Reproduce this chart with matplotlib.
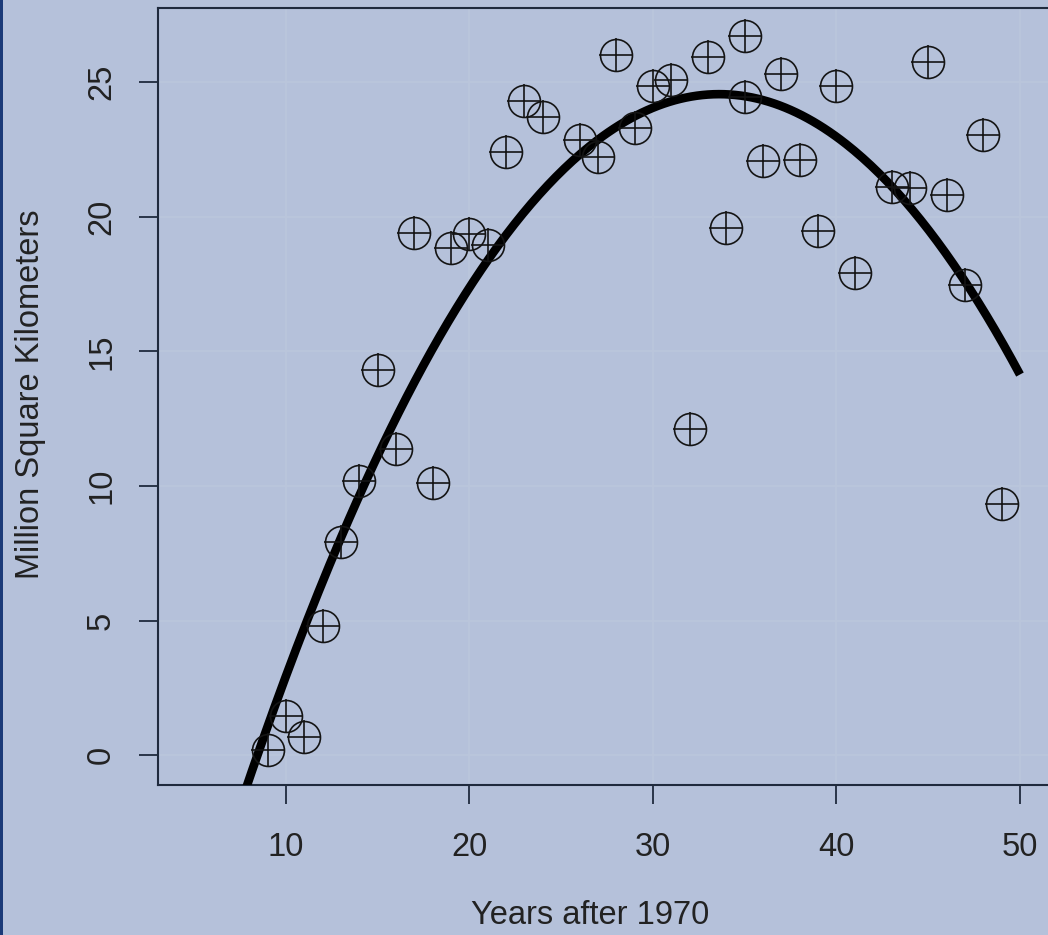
import numpy as np
import matplotlib
matplotlib.use("Agg")
import matplotlib.pyplot as plt
from matplotlib.patches import Rectangle

# Data
years = [9, 10, 11, 12, 13, 14, 15, 16, 17, 18, 19, 20, 21, 22, 23, 24, 26, 27,
         28, 29, 30, 31, 32, 33, 34, 35, 35, 36, 37, 38, 39, 40, 41, 43, 44, 45,
         46, 47, 48, 49]
area = [0.19, 1.45, 0.67, 4.79, 7.91, 10.2, 14.3, 11.37, 19.4, 10.1, 18.85, 19.35,
        18.95, 22.4, 24.3, 23.7, 22.85, 22.2, 26.0, 23.3, 24.85, 25.07, 12.1, 25.93,
        19.58, 26.7, 24.44, 22.07, 25.3, 22.1, 19.46, 24.85, 17.9, 21.1, 21.06, 25.74,
        20.8, 17.46, 23.03, 9.32]

x_ticks = [10, 20, 30, 40, 50]
y_ticks = [0, 5, 10, 15, 20, 25]
x_label = "Years after 1970"
y_label = "Million Square Kilometers"

bg = "#b5c1da"
axis_col = "#1f2a3d"
ink = "#141414"

plt.rcParams['font.family'] = ['Liberation Sans', 'DejaVu Sans']

fig = plt.figure(figsize=(10.48, 9.35), dpi=100, facecolor=bg)
ax = fig.add_axes([158/1048, 1-785/935, (1053-158)/1048, (785-8)/935])
ax.set_facecolor(bg)

# quadratic fit of the data (as in the original lm with x^2 term)
coef = np.polyfit(years, area, 2)
xf = np.linspace(5, 50, 300)
ax.plot(xf, np.polyval(coef, xf), color="black", lw=6.2, solid_capstyle="butt", zorder=3)

ax.plot(years, area, linestyle="none", marker="o", markersize=23, markerfacecolor="none",
        markeredgecolor=ink, markeredgewidth=1.2, zorder=4)
ax.plot(years, area, linestyle="none", marker="+", markersize=24, markeredgecolor=ink,
        markeredgewidth=1.2, zorder=4)

ax.set_xlim(3.03, 51.8)
ax.set_ylim(-1.11, 27.75)
ax.set_xticks(x_ticks)
ax.set_yticks(y_ticks)
ax.set_xticklabels([str(t) for t in x_ticks])
ax.set_yticklabels([str(t) for t in y_ticks], rotation=90, va="center")
ax.tick_params(axis="both", direction="out", length=13.5, width=1.3, color=axis_col,
               labelsize=23.5, labelcolor="#222222")
ax.tick_params(axis="x", pad=20)
ax.tick_params(axis="y", pad=16)
ax.grid(True, color="#bbc6dc", lw=1.2, zorder=0)
ax.set_axisbelow(True)
for s in ax.spines.values():
    s.set_color(axis_col)
    s.set_linewidth(1.5)

fig.text(590/1048, 1-915/935, x_label, ha="center", va="center", fontsize=23.5, color="#222222")
fig.text(31/1048, 1-394/935, y_label, ha="center", va="center", rotation=90, fontsize=23.5,
         color="#222222")

# dark border strip on the left edge
fig.patches.append(Rectangle((0, 0), 3/1048, 1, transform=fig.transFigure,
                             facecolor="#1b3a78", edgecolor="none", zorder=10))

fig.savefig("out.png", dpi=100, facecolor=bg)
